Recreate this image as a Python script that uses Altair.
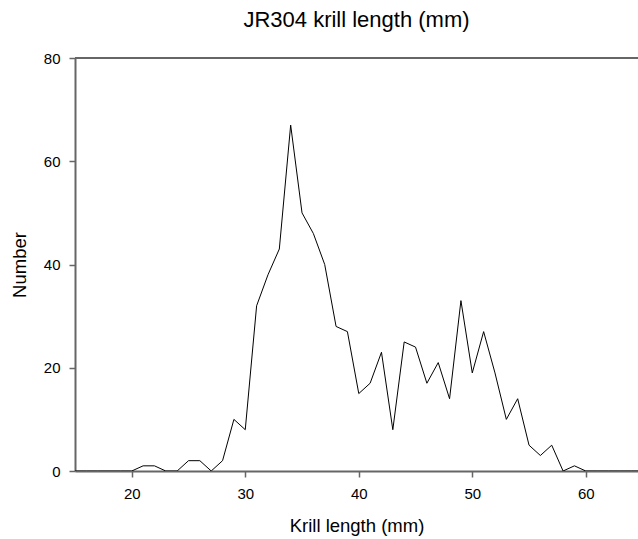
import altair as alt
import pandas as pd

lengths = list(range(15, 66))
counts = [0, 0, 0, 0, 0, 0, 1, 1, 0, 0, 2, 2, 0, 2, 10, 8, 32, 38, 43, 67,
          50, 46, 40, 28, 27, 15, 17, 23, 8, 25, 24, 17, 21, 14, 33, 19, 27, 19,
          10, 14, 5, 3, 5, 0, 1, 0, 0, 0, 0, 0, 0]
x_ticks = [20, 30, 40, 50, 60]
y_ticks = [0, 20, 40, 60, 80]

df = pd.DataFrame({"length": lengths, "count": counts})

W, H = 563, 413
AX = "#666666"
FONT = "Liberation Sans"

line = alt.Chart(df).mark_line(color="black", strokeWidth=1, clip=True).encode(
    x=alt.X("length:Q",
            scale=alt.Scale(domain=[15, 64.6], nice=False, zero=False),
            axis=alt.Axis(values=x_ticks, title="Krill length (mm)", grid=False,
                          domainColor=AX, domainWidth=2, tickColor=AX, tickWidth=1.5,
                          tickSize=6, labelPadding=9, labelFontSize=15, titleFontSize=18.5,
                          titleFontWeight="normal", titlePadding=15, labelColor="black",
                          titleColor="black", labelFont=FONT, titleFont=FONT)),
    y=alt.Y("count:Q",
            scale=alt.Scale(domain=[0, 80], nice=False),
            axis=alt.Axis(values=y_ticks, title="Number", grid=False,
                          domainColor=AX, domainWidth=2, tickColor=AX, tickWidth=1.5,
                          tickSize=6, labelPadding=9, labelFontSize=15, titleFontSize=18.5,
                          titleFontWeight="normal", titlePadding=14, labelColor="black",
                          titleColor="black", labelFont=FONT, titleFont=FONT)),
)

top = alt.Chart(pd.DataFrame({"y": [80]})).mark_rule(color=AX, strokeWidth=2).encode(
    y=alt.Y("y:Q", scale=alt.Scale(domain=[0, 80], nice=False)),
    x=alt.value(0),
    x2=alt.value(W),
)

chart = alt.layer(line, top).properties(
    width=W, height=H,
    title=alt.Title("JR304 krill length (mm)", fontSize=22, fontWeight="normal",
                    font=FONT, color="black", anchor="middle", offset=19),
    autosize=alt.AutoSizeParams(type="none"),
    padding={"left": 75, "top": 58, "right": 0, "bottom": 68},
).configure_view(stroke=None).configure(background="white")

chart.save("out.html", embed_options={"renderer": "svg", "actions": False})
